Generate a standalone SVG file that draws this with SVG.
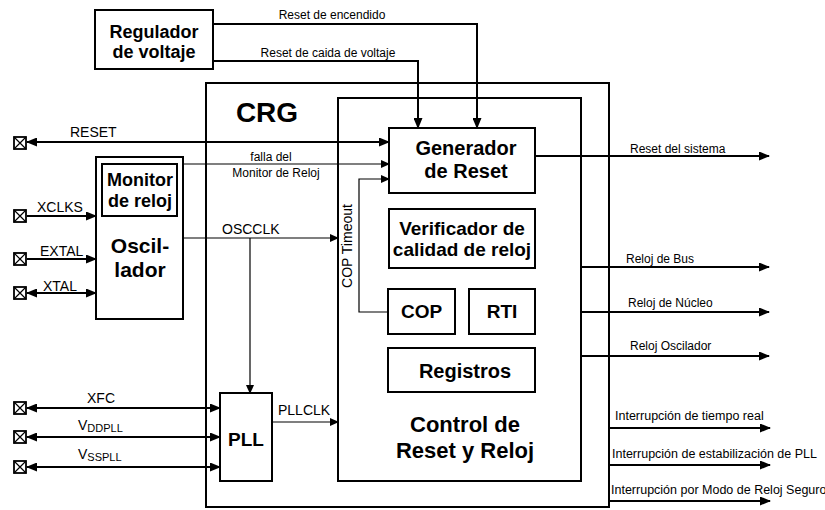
<svg xmlns="http://www.w3.org/2000/svg" width="825" height="510" viewBox="0 0 825 510">
<defs>
<marker id="ah" markerUnits="userSpaceOnUse" markerWidth="11" markerHeight="9" refX="10" refY="4.5" orient="auto-start-reverse"><path d="M0,0 L11,4.5 L0,9 z" fill="#000"/></marker>
<marker id="as" markerUnits="userSpaceOnUse" markerWidth="9" markerHeight="8" refX="8" refY="4" orient="auto-start-reverse"><path d="M0,0 L9,4 L0,8 z" fill="#000"/></marker>
</defs>
<style>
.box{fill:#fff;stroke:#000;stroke-width:2}
.frame{fill:none;stroke:#000;stroke-width:2}
.b{font-family:"Liberation Sans",Arial,sans-serif;font-weight:bold;fill:#000;text-anchor:middle}
.l{font-family:"Liberation Sans",Arial,sans-serif;font-size:12px;fill:#000}
.li{font-family:"Liberation Sans",Arial,sans-serif;font-size:12.5px;fill:#000}
.p{font-family:"Liberation Sans",Arial,sans-serif;font-size:14px;fill:#000}
.w{fill:none;stroke:#000;stroke-width:2}
.t{fill:none;stroke:#000;stroke-width:1.2}
.pin{fill:#fff;stroke:#000;stroke-width:1.8}
</style>
<rect width="825" height="510" fill="#fff"/>

<g id="crg">
<rect class="frame" x="206" y="83" width="403" height="424"/>
<text class="b" x="267" y="122" font-size="28">CRG</text>
</g>
<g id="control">
<rect class="frame" x="338" y="98" width="243" height="383"/>
<text class="b" x="465" y="432" font-size="22">Control de</text>
<text class="b" x="465" y="458" font-size="22">Reset y Reloj</text>
</g>
<g id="regulador">
<rect class="box" x="95" y="10" width="118" height="59"/>
<text class="b" x="154" y="38" font-size="18">Regulador</text>
<text class="b" x="154" y="58" font-size="18">de voltaje</text>
</g>
<g id="generador">
<rect class="box" x="389" y="128" width="146" height="65"/>
<text class="b" x="466" y="155" font-size="20">Generador</text>
<text class="b" x="466" y="178" font-size="20">de Reset</text>
</g>
<g id="verificador">
<rect class="box" x="389" y="209" width="146" height="59"/>
<text class="b" x="462" y="235" font-size="19">Verificador de</text>
<text class="b" x="462" y="256" font-size="19">calidad de reloj</text>
</g>
<g id="cop">
<rect class="box" x="388" y="289" width="67" height="45"/>
<text class="b" x="421.5" y="318" font-size="19">COP</text>
</g>
<g id="rti">
<rect class="box" x="469" y="289" width="66" height="45"/>
<text class="b" x="502" y="318" font-size="19">RTI</text>
</g>
<g id="registros">
<rect class="box" x="388" y="348" width="147" height="44"/>
<text class="b" x="465" y="378" font-size="20">Registros</text>
</g>
<g id="oscilador">
<rect class="box" x="96" y="157" width="87" height="162"/>
<text class="b" x="140" y="253" font-size="21">Oscil-</text>
<text class="b" x="140" y="277" font-size="21">lador</text>
</g>
<g id="monitor">
<rect class="box" x="102" y="164" width="75" height="52"/>
<text class="b" x="140" y="186" font-size="18">Monitor</text>
<text class="b" x="140" y="207" font-size="18">de reloj</text>
</g>
<g id="pll">
<rect class="box" x="220" y="393" width="52" height="88"/>
<text class="b" x="246" y="446" font-size="19">PLL</text>
</g>
<g id="pins">
<g><rect class="pin" x="14" y="137" width="12" height="12"/><path class="t" d="M14,137 L26,149 M26,137 L14,149"/></g>
<g><rect class="pin" x="14" y="210" width="12" height="12"/><path class="t" d="M14,210 L26,222 M26,210 L14,222"/></g>
<g><rect class="pin" x="14" y="253" width="12" height="12"/><path class="t" d="M14,253 L26,265 M26,253 L14,265"/></g>
<g><rect class="pin" x="14" y="287" width="12" height="12"/><path class="t" d="M14,287 L26,299 M26,287 L14,299"/></g>
<g><rect class="pin" x="14" y="402" width="12" height="12"/><path class="t" d="M14,402 L26,414 M26,402 L14,414"/></g>
<g><rect class="pin" x="14" y="431" width="12" height="12"/><path class="t" d="M14,431 L26,443 M26,431 L14,443"/></g>
<g><rect class="pin" x="14" y="461" width="12" height="12"/><path class="t" d="M14,461 L26,473 M26,461 L14,473"/></g>
</g>

<g id="connectors">
<polyline class="w" points="213,24 477,24 477,128" marker-end="url(#ah)"/>
<polyline class="w" points="213,61 418,61 418,128" marker-end="url(#ah)"/>
<line class="w" x1="27" y1="142" x2="389" y2="142" marker-start="url(#ah)" marker-end="url(#ah)"/>
<line class="t" x1="183" y1="164" x2="389" y2="164" marker-end="url(#as)"/>
<polyline class="t" points="388,312 359,312 359,179 389,179" marker-end="url(#as)"/>
<line class="w" x1="535" y1="156" x2="769" y2="156" marker-end="url(#ah)"/>
<line class="t" x1="183" y1="238" x2="338" y2="238" marker-end="url(#as)"/>
<line class="t" x1="250" y1="238" x2="250" y2="393" marker-end="url(#as)"/>
<line class="t" x1="272" y1="422" x2="338" y2="422" marker-end="url(#as)"/>
<line class="w" x1="27" y1="216" x2="96" y2="216" marker-end="url(#ah)"/>
<line class="w" x1="27" y1="259" x2="96" y2="259" marker-end="url(#ah)"/>
<line class="w" x1="27" y1="293" x2="96" y2="293" marker-start="url(#ah)" marker-end="url(#ah)"/>
<line class="w" x1="27" y1="408" x2="220" y2="408" marker-start="url(#ah)" marker-end="url(#ah)"/>
<line class="w" x1="27" y1="437" x2="220" y2="437" marker-start="url(#ah)" marker-end="url(#ah)"/>
<line class="w" x1="27" y1="467" x2="220" y2="467" marker-start="url(#ah)" marker-end="url(#ah)"/>
<line class="w" x1="581" y1="267" x2="769" y2="267" marker-end="url(#ah)"/>
<line class="w" x1="581" y1="312" x2="769" y2="312" marker-end="url(#ah)"/>
<line class="w" x1="581" y1="356" x2="769" y2="356" marker-end="url(#ah)"/>
<line class="w" x1="609" y1="428" x2="770" y2="428" marker-end="url(#ah)"/>
<line class="w" x1="609" y1="465" x2="770" y2="465" marker-end="url(#ah)"/>
<line class="w" x1="609" y1="501" x2="770" y2="501" marker-end="url(#ah)"/>
</g>

<g id="labels">
<text class="l" x="332" y="19" text-anchor="middle">Reset de encendido</text>
<text class="l" x="328" y="57" text-anchor="middle">Reset de caida de voltaje</text>
<text class="p" x="70" y="137">RESET</text>
<text class="l" x="271" y="161" text-anchor="middle">falla del</text>
<text class="l" x="276" y="177" text-anchor="middle">Monitor de Reloj</text>
<text class="p" x="222" y="234">OSCCLK</text>
<text class="p" transform="translate(352,246) rotate(-90)" text-anchor="middle">COP Timeout</text>
<text class="p" x="37" y="212">XCLKS</text>
<text class="p" x="40" y="256">EXTAL</text>
<text class="p" x="43" y="291">XTAL</text>
<text class="p" x="87" y="403">XFC</text>
<text class="p" x="78" y="430">V<tspan font-size="11" dy="2">DDPLL</tspan></text>
<text class="p" x="78" y="459">V<tspan font-size="11" dy="2">SSPLL</tspan></text>
<text class="p" x="278" y="415">PLLCLK</text>
<text class="l" x="630" y="153">Reset del sistema</text>
<text class="l" x="626" y="263">Reloj de Bus</text>
<text class="l" x="628" y="307">Reloj de Núcleo</text>
<text class="l" x="630" y="350">Reloj Oscilador</text>
<text class="li" x="615" y="420">Interrupción de tiempo real</text>
<text class="li" x="612" y="458">Interrupción de estabilización de PLL</text>
<text class="li" x="611" y="494">Interrupción por Modo de Reloj Seguro</text>
</g>
</svg>
